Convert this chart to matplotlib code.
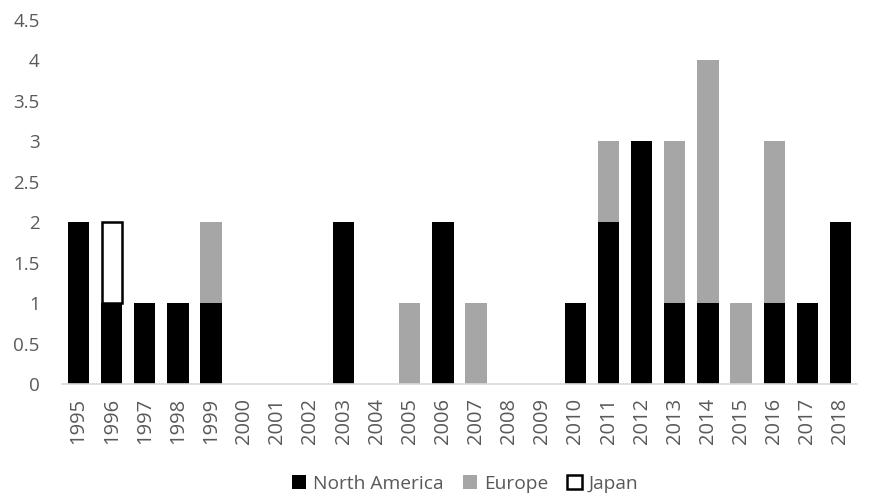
import matplotlib.pyplot as plt
import numpy as np

years = [str(y) for y in range(1995, 2019)]
north_america = [2, 1, 1, 1, 1, 0, 0, 0, 2, 0, 0, 2, 0, 0, 0, 1, 2, 3, 1, 1, 0, 1, 1, 2]
europe =        [0, 0, 0, 0, 1, 0, 0, 0, 0, 0, 1, 0, 1, 0, 0, 0, 1, 0, 2, 3, 1, 2, 0, 0]
japan =         [0, 1, 0, 0, 0, 0, 0, 0, 0, 0, 0, 0, 0, 0, 0, 0, 0, 0, 0, 0, 0, 0, 0, 0]

plt.rcParams['font.family'] = ['Open Sans', 'DejaVu Sans']
text_color = '#595959'

fig = plt.figure(figsize=(8.86, 4.93), dpi=100)
ax = fig.add_axes([62 / 886, 1 - 384 / 493, (857 - 62) / 886, (384 - 20) / 493])

x = np.arange(len(years))
na = np.array(north_america, dtype=float)
eu = np.array(europe, dtype=float)
jp = np.array(japan, dtype=float)
w = 0.64

ax.bar(x, na, w, color='black', label='North America', zorder=2)
ax.bar(x, eu, w, bottom=na, color='#a6a6a6', label='Europe', zorder=2)
mask = jp > 0
ax.bar(x[mask], jp[mask], w * 0.94, bottom=(na + eu)[mask], color='white',
       edgecolor='black', linewidth=1.8, label='Japan', zorder=3)

ax.set_xlim(-0.5, len(years) - 0.5)
ax.set_ylim(0, 4.5)
ax.set_yticks(np.arange(0, 4.51, 0.5))
ax.set_yticklabels(['0', '0.5', '1', '1.5', '2', '2.5', '3', '3.5', '4', '4.5'])
ax.set_xticks(x)
ax.set_xticklabels(years, rotation=90)

for s in ['top', 'right', 'left']:
    ax.spines[s].set_visible(False)
ax.spines['bottom'].set_color('#d9d9d9')
ax.spines['bottom'].set_linewidth(1.2)
ax.tick_params(axis='both', length=0, colors=text_color)
ax.tick_params(axis='y', pad=16, labelsize=13.5)
ax.tick_params(axis='x', pad=10, labelsize=14.5)

handles, labels = ax.get_legend_handles_labels()
leg = fig.legend(handles, labels, loc='center', bbox_to_anchor=(465 / 886, 1 - 484 / 493),
                 ncol=3, frameon=False, fontsize=13.8, handlelength=0.75, handleheight=0.75,
                 handletextpad=0.35, columnspacing=1.0, borderpad=0)
for t in leg.get_texts():
    t.set_color(text_color)

fig.savefig('out.png', dpi=100)
